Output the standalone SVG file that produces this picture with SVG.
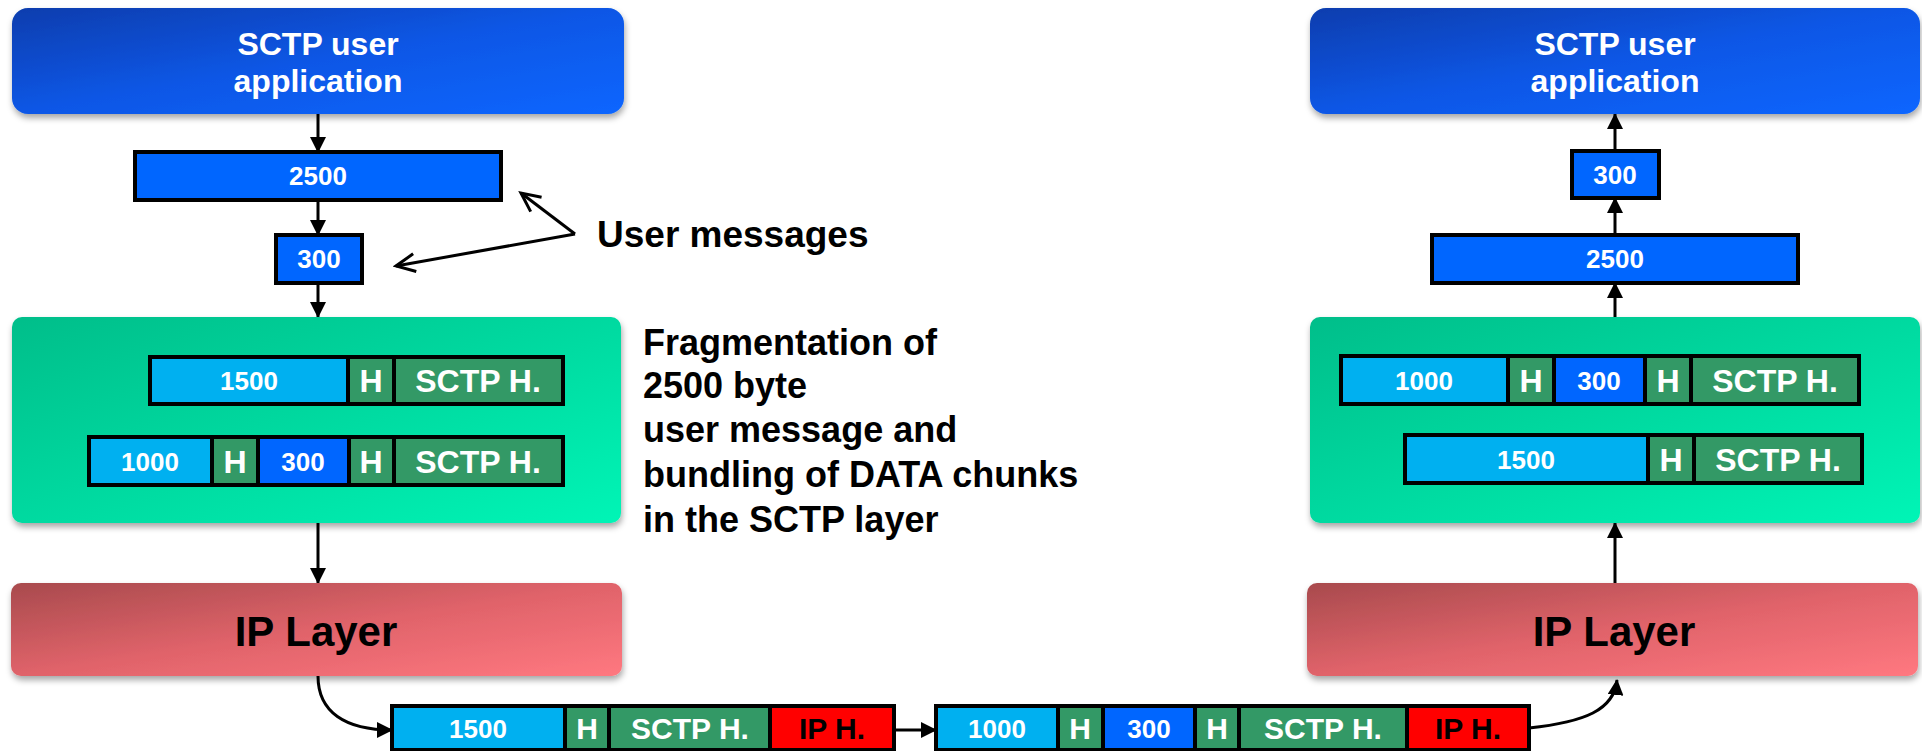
<svg xmlns="http://www.w3.org/2000/svg" width="1922" height="751" viewBox="0 0 1922 751">
<defs>
<linearGradient id="gBlue" x1="0" y1="0" x2="1" y2="1"><stop offset="0" stop-color="#083DAE"/><stop offset="0.5" stop-color="#0857E6"/><stop offset="1" stop-color="#0A66FF"/></linearGradient>
<linearGradient id="gGreen" x1="0" y1="0" x2="1" y2="1"><stop offset="0" stop-color="#05BE8A"/><stop offset="1" stop-color="#05F5B6"/></linearGradient>
<linearGradient id="gRed" x1="0" y1="0" x2="1" y2="1"><stop offset="0" stop-color="#A84A4D"/><stop offset="0.5" stop-color="#E0636A"/><stop offset="1" stop-color="#FF7880"/></linearGradient>
<filter id="sh" x="-5%" y="-10%" width="110%" height="130%"><feDropShadow dx="1" dy="4" stdDeviation="3" flood-color="#000" flood-opacity="0.35"/></filter>
<marker id="ah" markerUnits="userSpaceOnUse" markerWidth="16" markerHeight="16" refX="15" refY="8" orient="auto"><path d="M0,0 L16,8 L0,16 z" fill="#000"/></marker>
<marker id="oh" markerUnits="userSpaceOnUse" markerWidth="24" markerHeight="24" refX="21" refY="12" orient="auto"><path d="M2,3 L21,12 L2,21" fill="none" stroke="#000" stroke-width="3"/></marker>
<style>
text{font-family:"Liberation Sans",Arial,sans-serif;font-weight:bold;text-anchor:middle}
.big{fill:#fff;font-size:32px}
.ip{fill:#000;font-size:42px}
.msg{fill:#0066FF;stroke:#000;stroke-width:4}
.lb{fill:#00B0F0;stroke:#000;stroke-width:4}
.db{fill:#0066FF;stroke:#000;stroke-width:4}
.gh{fill:#339966;stroke:#000;stroke-width:4}
.rh{fill:#FF0000;stroke:#000;stroke-width:4}
.n{fill:#fff;font-size:26px}
.h{fill:#fff;font-size:30px}
.hg{fill:#fff;font-size:32px}
.k{fill:#000;font-size:30px}
.lbl{fill:#000;font-size:36px;text-anchor:start}
.c{fill:none;stroke:#000;stroke-width:3}
</style>
</defs>

<g id="connectors">
<line class="c" x1="318" y1="114" x2="318" y2="152" marker-end="url(#ah)"/>
<line class="c" x1="318" y1="200" x2="318" y2="235" marker-end="url(#ah)"/>
<line class="c" x1="318" y1="283" x2="318" y2="317" marker-end="url(#ah)"/>
<line class="c" x1="318" y1="523" x2="318" y2="583" marker-end="url(#ah)"/>
<path class="c" d="M318,676 C318,712 345,730 392,730" marker-end="url(#ah)"/>
<line class="c" x1="894" y1="730" x2="936" y2="730" marker-end="url(#ah)"/>
<path class="c" d="M1529,728 C1585,722 1614,710 1617,680" marker-end="url(#ah)"/>
<line class="c" x1="1615" y1="583" x2="1615" y2="523" marker-end="url(#ah)"/>
<line class="c" x1="1615" y1="317" x2="1615" y2="283" marker-end="url(#ah)"/>
<line class="c" x1="1615" y1="235" x2="1615" y2="198" marker-end="url(#ah)"/>
<line class="c" x1="1615" y1="151" x2="1615" y2="114" marker-end="url(#ah)"/>
<path class="c" d="M575,234 L521,193" marker-end="url(#oh)"/>
<path class="c" d="M575,234 L396,266" marker-end="url(#oh)"/>
</g>

<g id="app-left">
<rect x="12" y="8" width="612" height="106" rx="16" fill="url(#gBlue)" filter="url(#sh)"/>
<text class="big" x="318" y="55">SCTP user</text>
<text class="big" x="318" y="92">application</text>
</g>
<g id="msg2500-left"><rect class="msg" x="135" y="152" width="366" height="48"/><text class="n" x="318" y="185">2500</text></g>
<g id="msg300-left"><rect class="msg" x="276" y="235" width="86" height="48"/><text class="n" x="319" y="268">300</text></g>

<g id="label-user-messages"><text class="lbl" x="597" y="247" style="font-size:37px">User messages</text></g>

<g id="sctp-left">
<rect x="12" y="317" width="609" height="206" rx="10" fill="url(#gGreen)" filter="url(#sh)"/>
<rect class="lb" x="150" y="357" width="198" height="47"/>
<rect class="gh" x="348" y="357" width="46" height="47"/>
<rect class="gh" x="394" y="357" width="169" height="47"/>
<text class="n" x="249" y="390">1500</text>
<text class="hg" x="371" y="392">H</text>
<text class="hg" x="478" y="392">SCTP H.</text>
<rect class="lb" x="89" y="437" width="123" height="48"/>
<rect class="gh" x="212" y="437" width="46" height="48"/>
<rect class="db" x="258" y="437" width="91" height="48"/>
<rect class="gh" x="349" y="437" width="45" height="48"/>
<rect class="gh" x="394" y="437" width="169" height="48"/>
<text class="n" x="150" y="471">1000</text>
<text class="hg" x="235" y="473">H</text>
<text class="n" x="303" y="471">300</text>
<text class="hg" x="371" y="473">H</text>
<text class="hg" x="478" y="473">SCTP H.</text>
</g>

<g id="label-fragmentation">
<text class="lbl" x="643" y="355">Fragmentation of</text>
<text class="lbl" x="643" y="398">2500 byte</text>
<text class="lbl" x="643" y="442">user message and</text>
<text class="lbl" x="643" y="487">bundling of DATA chunks</text>
<text class="lbl" x="643" y="532">in the SCTP layer</text>
</g>

<g id="ip-left">
<rect x="11" y="583" width="611" height="93" rx="10" fill="url(#gRed)" filter="url(#sh)"/>
<text class="ip" x="316" y="646">IP Layer</text>
</g>

<g id="packet-1">
<rect class="lb" x="392" y="706" width="173" height="44"/>
<rect class="gh" x="565" y="706" width="44" height="44"/>
<rect class="gh" x="609" y="706" width="161" height="44"/>
<rect class="rh" x="770" y="706" width="124" height="44"/>
<text class="n" x="478" y="738">1500</text>
<text class="h" x="587" y="739">H</text>
<text class="h" x="690" y="739">SCTP H.</text>
<text class="k" x="832" y="739">IP H.</text>
</g>

<g id="packet-2">
<rect class="lb" x="936" y="706" width="122" height="44"/>
<rect class="gh" x="1058" y="706" width="45" height="44"/>
<rect class="db" x="1103" y="706" width="92" height="44"/>
<rect class="gh" x="1195" y="706" width="44" height="44"/>
<rect class="gh" x="1239" y="706" width="168" height="44"/>
<rect class="rh" x="1407" y="706" width="122" height="44"/>
<text class="n" x="997" y="738">1000</text>
<text class="h" x="1080" y="739">H</text>
<text class="n" x="1149" y="738">300</text>
<text class="h" x="1217" y="739">H</text>
<text class="h" x="1323" y="739">SCTP H.</text>
<text class="k" x="1468" y="739">IP H.</text>
</g>

<g id="ip-right">
<rect x="1307" y="583" width="611" height="93" rx="10" fill="url(#gRed)" filter="url(#sh)"/>
<text class="ip" x="1614" y="646">IP Layer</text>
</g>

<g id="sctp-right">
<rect x="1310" y="317" width="610" height="206" rx="10" fill="url(#gGreen)" filter="url(#sh)"/>
<rect class="lb" x="1341" y="356" width="167" height="48"/>
<rect class="gh" x="1508" y="356" width="46" height="48"/>
<rect class="db" x="1554" y="356" width="91" height="48"/>
<rect class="gh" x="1645" y="356" width="46" height="48"/>
<rect class="gh" x="1691" y="356" width="168" height="48"/>
<text class="n" x="1424" y="390">1000</text>
<text class="hg" x="1531" y="392">H</text>
<text class="n" x="1599" y="390">300</text>
<text class="hg" x="1668" y="392">H</text>
<text class="hg" x="1775" y="392">SCTP H.</text>
<rect class="lb" x="1405" y="435" width="243" height="48"/>
<rect class="gh" x="1648" y="435" width="46" height="48"/>
<rect class="gh" x="1694" y="435" width="168" height="48"/>
<text class="n" x="1526" y="469">1500</text>
<text class="hg" x="1671" y="471">H</text>
<text class="hg" x="1778" y="471">SCTP H.</text>
</g>

<g id="msg2500-right"><rect class="msg" x="1432" y="235" width="366" height="48"/><text class="n" x="1615" y="268">2500</text></g>
<g id="msg300-right"><rect class="msg" x="1572" y="151" width="87" height="47"/><text class="n" x="1615" y="184">300</text></g>

<g id="app-right">
<rect x="1310" y="8" width="610" height="106" rx="16" fill="url(#gBlue)" filter="url(#sh)"/>
<text class="big" x="1615" y="55">SCTP user</text>
<text class="big" x="1615" y="92">application</text>
</g>
</svg>
